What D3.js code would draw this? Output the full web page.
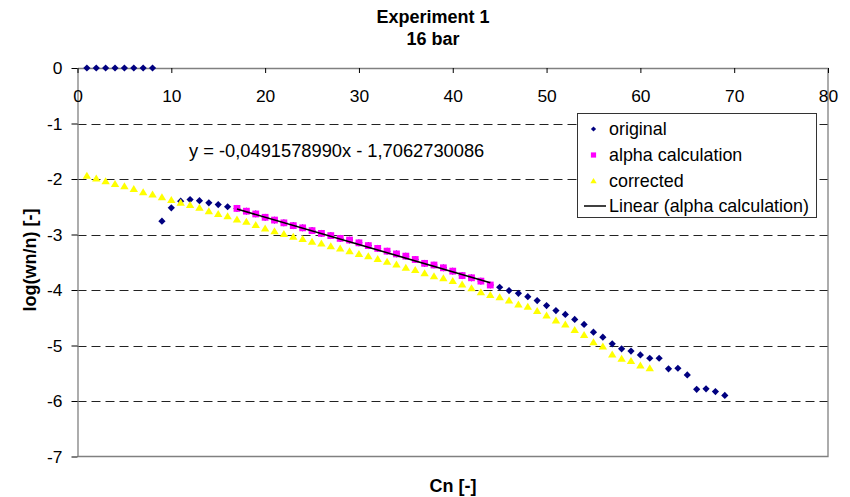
<!DOCTYPE html>
<html>
<head>
<meta charset="utf-8">
<script src="https://cdn.jsdelivr.net/npm/d3@7"></script>
<style>
  html, body { margin: 0; padding: 0; background: #fff; }
  svg { display: block; font-family: "Liberation Sans", Arial, sans-serif; }
</style>
</head>
<body>
<svg id="chart" width="850" height="497"></svg>
<script>
// ---------------- DATA ----------------
const titleLines = ["Experiment 1", "16 bar"];
const xLabel = "Cn [-]";
const yLabel = "log(wn/n) [-]";
const xTicks = [0, 10, 20, 30, 40, 50, 60, 70, 80];
const yTicks = [0, -1, -2, -3, -4, -5, -6, -7];

const originalX = [1,2,3,4,5,6,7,8,9,10,11,12,13,14,15,16,
  17,18,19,20,21,22,23,24,25,26,27,28,29,30,31,32,33,34,35,36,37,38,39,40,41,42,43,44,
  45,46,47,48,49,50,51,52,53,54,55,56,57,58,59,60,61,62,63,64,65,66,67,68,69];
const originalY = [0,0,0,0,0,0,0,0,-2.76,-2.52,-2.40,-2.37,-2.39,-2.43,-2.46,-2.50,
  -2.53,-2.58,-2.63,-2.69,-2.74,-2.79,-2.84,-2.88,-2.93,-2.98,-3.02,-3.07,-3.10,-3.15,
  -3.20,-3.25,-3.30,-3.35,-3.39,-3.45,-3.52,-3.55,-3.60,-3.66,-3.74,-3.78,-3.84,-3.91,
  -3.95,-4.01,-4.06,-4.12,-4.19,-4.28,-4.37,-4.44,-4.53,-4.62,-4.76,-4.85,-4.97,-5.06,
  -5.10,-5.17,-5.23,-5.23,-5.42,-5.41,-5.53,-5.79,-5.78,-5.83,-5.90];

const alphaX = [17,18,19,20,21,22,23,24,25,26,27,28,29,30,31,32,33,34,35,36,37,38,39,40,41,42,43,44];
const alphaY = [-2.53,-2.58,-2.63,-2.69,-2.74,-2.79,-2.84,-2.88,-2.93,-2.98,-3.02,-3.07,-3.10,-3.15,
  -3.20,-3.25,-3.30,-3.35,-3.39,-3.45,-3.52,-3.55,-3.60,-3.66,-3.74,-3.78,-3.84,-3.91];

const correctedX = [1,2,3,4,5,6,7,8,9,10,11,12,13,14,15,16,17,18,19,20,21,22,23,24,25,26,27,28,29,30,
  31,32,33,34,35,36,37,38,39,40,41,42,43,44,45,46,47,48,49,50,51,52,53,54,55,56,57,58,59,60,61];
const correctedY = [-1.94,-1.99,-2.04,-2.09,-2.13,-2.18,-2.24,-2.28,-2.33,-2.38,-2.43,-2.47,-2.52,-2.58,
  -2.63,-2.67,-2.73,-2.77,-2.83,-2.89,-2.94,-2.99,-3.04,-3.08,-3.13,-3.16,-3.21,-3.25,-3.30,-3.35,
  -3.39,-3.44,-3.49,-3.54,-3.60,-3.64,-3.70,-3.75,-3.79,-3.84,-3.90,-3.97,-4.04,-4.09,-4.13,-4.19,
  -4.26,-4.30,-4.38,-4.46,-4.55,-4.62,-4.72,-4.81,-4.94,-5.02,-5.16,-5.24,-5.28,-5.36,-5.41];

const trendSlope = -0.0491578990;
const trendIntercept = -1.7062730086;
const trendEquation = "y = -0,0491578990x - 1,7062730086";
const legendLabels = ["original", "alpha calculation", "corrected", "Linear (alpha calculation)"];

// ---------------- LAYOUT ----------------
const svg = d3.select("#chart");
const W = 850, H = 497;
const plot = { left: 77.5, right: 828, top: 68, bottom: 456.5 };
const x = d3.scaleLinear().domain([0, 80]).range([plot.left, plot.right]);
const y = d3.scaleLinear().domain([0, -7]).range([plot.top, plot.bottom]);
const AXIS = "#808080";
const FS = 17.4;

svg.append("rect").attr("width", W).attr("height", H).attr("fill", "#fff");

// gridlines
svg.append("g").selectAll("line").data(yTicks.filter(d => d < 0 && d > -7)).join("line")
  .attr("x1", plot.left).attr("x2", plot.right)
  .attr("y1", d => Math.round(y(d)) + 0.5).attr("y2", d => Math.round(y(d)) + 0.5)
  .attr("stroke", "#222").attr("stroke-width", 1).attr("stroke-dasharray", "9,5");

// plot border (right, bottom)
svg.append("path")
  .attr("d", `M${plot.right},${plot.top}V${plot.bottom}H${plot.left}`)
  .attr("fill", "none").attr("stroke", AXIS).attr("stroke-width", 1.3);

// Y axis
const yAxis = svg.append("g").attr("transform", `translate(${plot.left},0)`)
  .call(d3.axisLeft(y).tickValues(yTicks).tickSize(6).tickSizeOuter(0).tickPadding(9)
    .tickFormat(d => String(d)));
yAxis.select(".domain").attr("stroke", AXIS).attr("stroke-width", 1.3);
yAxis.selectAll(".tick line").attr("stroke", "#000");
yAxis.selectAll("text").attr("font-size", FS).attr("fill", "#000")
  .attr("font-family", "Liberation Sans, Arial, sans-serif");

// X axis (at y = 0, top)
const xAxis = svg.append("g").attr("transform", `translate(0,${plot.top})`)
  .call(d3.axisBottom(x).tickValues(xTicks).tickSize(5).tickSizeOuter(0).tickPadding(17)
    .tickFormat(d => String(d)));
xAxis.select(".domain").attr("stroke", AXIS).attr("stroke-width", 1.3);
xAxis.selectAll(".tick line").attr("stroke", "#000");
xAxis.selectAll("text").attr("font-size", FS).attr("fill", "#000")
  .attr("font-family", "Liberation Sans, Arial, sans-serif");

// marker shapes
const diamond = s => `M0,${-s}L${s},0L0,${s}L${-s},0Z`;
const square = s => `M${-s},${-s}H${s}V${s}H${-s}Z`;
const triangle = s => `M0,${-s}L${s * 1.05},${s * 0.75}L${-s * 1.05},${s * 0.75}Z`;

const original = originalX.map((v, i) => ({ x: v, y: originalY[i] }));
const alpha = alphaX.map((v, i) => ({ x: v, y: alphaY[i] }));
const corrected = correctedX.map((v, i) => ({ x: v, y: correctedY[i] }));

svg.append("g").selectAll("path").data(original).join("path")
  .attr("transform", d => `translate(${x(d.x)},${y(d.y)})`)
  .attr("d", diamond(3.6)).attr("fill", "#000080");

svg.append("g").selectAll("path").data(alpha).join("path")
  .attr("transform", d => `translate(${x(d.x)},${y(d.y)})`)
  .attr("d", square(3.4)).attr("fill", "#FF00FF");

svg.append("g").selectAll("path").data(corrected).join("path")
  .attr("transform", d => `translate(${x(d.x)},${y(d.y)})`)
  .attr("d", triangle(4)).attr("fill", "#FFFF00");

// trendline
const tx = d3.extent(alphaX);
svg.append("line")
  .attr("x1", x(tx[0])).attr("y1", y(trendSlope * tx[0] + trendIntercept))
  .attr("x2", x(tx[1])).attr("y2", y(trendSlope * tx[1] + trendIntercept))
  .attr("stroke", "#000").attr("stroke-width", 1.6);

// equation
svg.append("text").attr("x", 189).attr("y", 157)
  .attr("font-size", 18.3).attr("fill", "#000").text(trendEquation);

// legend
const lg = svg.append("g");
lg.append("rect").attr("x", 577.5).attr("y", 113.5).attr("width", 239).attr("height", 104)
  .attr("fill", "#fff").attr("stroke", "#333").attr("stroke-width", 1);
const rowsY = [129, 155, 181, 206];
const mx = 593.5, tx0 = 609;
lg.append("path").attr("transform", `translate(${mx},${rowsY[0]})`).attr("d", diamond(2.6)).attr("fill", "#000080");
lg.append("path").attr("transform", `translate(${mx},${rowsY[1]})`).attr("d", square(2.6)).attr("fill", "#FF00FF");
lg.append("path").attr("transform", `translate(${mx},${rowsY[2]})`).attr("d", triangle(3)).attr("fill", "#FFFF00");
lg.append("line").attr("x1", 584).attr("x2", 606).attr("y1", rowsY[3]).attr("y2", rowsY[3])
  .attr("stroke", "#000").attr("stroke-width", 1.5);
lg.selectAll("text.l").data(legendLabels).join("text").attr("class", "l")
  .attr("x", tx0).attr("y", (d, i) => rowsY[i]).attr("dy", "0.36em")
  .attr("font-size", 17.9).attr("fill", "#000").text(d => d);

// titles
svg.append("text").attr("x", 433).attr("y", 23).attr("text-anchor", "middle")
  .attr("font-size", 18).attr("font-weight", "bold").text(titleLines[0]);
svg.append("text").attr("x", 433).attr("y", 45).attr("text-anchor", "middle")
  .attr("font-size", 18).attr("font-weight", "bold").text(titleLines[1]);
svg.append("text").attr("x", 453).attr("y", 492).attr("text-anchor", "middle")
  .attr("font-size", 18).attr("font-weight", "bold").text(xLabel);
svg.append("text").attr("transform", "translate(36,260) rotate(-90)").attr("text-anchor", "middle")
  .attr("font-size", 18).attr("font-weight", "bold").text(yLabel);
</script>
</body>
</html>
